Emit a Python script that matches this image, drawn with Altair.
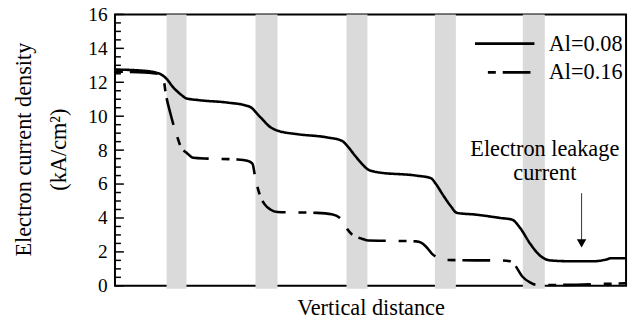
import altair as alt
import pandas as pd

FONT = "Liberation Serif, Times New Roman, serif"
TXT = 22.5

# --- data (x in arbitrary units of vertical distance, 0..100) ---
x_al008 = [0, 4.6, 7.6, 9.1, 10.1, 11.4, 12.8, 14.0, 16.3, 22.1, 26.0, 26.9, 27.5, 28.9, 30.2, 31.8,
           35.7, 41.5, 44.4, 45.3, 46.9, 48.3, 49.4, 51.3, 58.9, 61.8, 62.8, 64.3, 65.7, 66.9, 70.5,
           75.4, 77.7, 79.3, 81.2, 83.1, 85.1, 89.0, 93.8, 96.1, 97.1, 100]
y_al008 = [12.75, 12.7, 12.6, 12.45, 12.2, 11.7, 11.3, 11.05, 10.95, 10.8, 10.6, 10.45, 10.25, 9.8, 9.4, 9.15,
           8.94, 8.75, 8.55, 8.3, 7.7, 7.2, 6.88, 6.7, 6.5, 6.35, 6.0, 5.3, 4.7, 4.3, 4.2,
           4.0, 3.9, 3.4, 2.5, 1.8, 1.5, 1.45, 1.45, 1.55, 1.63, 1.63]

x_al016 = [0, 4.6, 8.5, 9.5, 9.9, 10.9, 12.0, 13.0, 14.0, 15.3, 18.2, 24.0, 25.9, 26.9, 27.5, 28.3, 29.3,
           30.4, 31.8, 39.5, 42.4, 44.4, 45.3, 46.5, 48.3, 49.6, 55.0, 58.9, 59.9, 60.9, 62.0, 63.2,
           64.7, 70.5, 75.4, 77.3, 78.3, 79.7, 81.2, 82.6, 86.0, 93.8, 100]
y_al016 = [12.62, 12.6, 12.5, 12.2, 11.4, 10.1, 8.95, 8.13, 7.85, 7.55, 7.5, 7.45, 7.37, 7.2, 6.3, 5.4, 4.8,
           4.5, 4.35, 4.3, 4.22, 3.9, 3.4, 3.0, 2.78, 2.67, 2.65, 2.62, 2.55, 2.3, 1.9, 1.65,
           1.53, 1.5, 1.5, 1.45, 1.2, 0.55, 0.2, 0.05, 0.05, 0.1, 0.15]

band_start = [10.1, 27.5, 45.3, 62.6, 79.8]
band_end = [14.0, 31.8, 49.4, 66.7, 84.1]

major_ticks = [0, 2, 4, 6, 8, 10, 12, 14, 16]
minor_ticks = [v / 2 for v in range(1, 32) if v % 4 != 0]

series_names = ["Al=0.08", "Al=0.16"]

ann_x = [84.1, 84.1]
ann_y = [7.67, 6.21]
ann_text = ["Electron leakage", "current"]
arrow_x = 91.3
arrow_top = 5.46
arrow_tip = 2.2

Y_TITLE = ["Electron current density", "(kA/cm\u00b2)"]
X_TITLE = "Vertical distance"

# --- tables ---
lines_df = pd.concat([
    pd.DataFrame({"x": x_al008, "y": y_al008, "s": series_names[0]}),
    pd.DataFrame({"x": x_al016, "y": y_al016, "s": series_names[1]}),
])
bands_df = pd.DataFrame({"a": band_start, "b": band_end})
major_df = pd.DataFrame({"v": major_ticks})
minor_df = pd.DataFrame({"v": minor_ticks})
ann_df = pd.DataFrame({"x": ann_x, "y": ann_y, "t": ann_text})
arrow_df = pd.DataFrame({"x": [arrow_x], "y": [arrow_top], "y2": [arrow_tip + 0.45], "tip": [arrow_tip + 0.3]})

xscale = alt.Scale(domain=[0, 100], nice=False)
yscale = alt.Scale(domain=[0, 16], nice=False)


def X(field):
    return alt.X(field, scale=xscale, title=X_TITLE)


def Y(field):
    return alt.Y(field, scale=yscale, title=Y_TITLE)


bands = alt.Chart(bands_df).mark_rect(color="#dadada", clip=False).encode(
    x=X("a:Q"), x2="b:Q", y=alt.value(0), y2=alt.value(277),
)

lines = alt.Chart(lines_df).mark_line(color="black", strokeWidth=2.6, interpolate="monotone").encode(
    x=X("x:Q"),
    y=Y("y:Q"),
    strokeDash=alt.StrokeDash("s:N", scale=alt.Scale(domain=series_names, range=[[1, 0], [8, 7, 28, 13]]),
                              legend=alt.Legend(title=None, orient="none", legendX=382, legendY=18,
                                                symbolType="M-3,0H3", symbolSize=400, symbolStrokeWidth=2.6,
                                                symbolStrokeColor="black", symbolDashOffset=43,
                                                labelFont=FONT, labelFontSize=TXT, labelColor="black",
                                                labelOffset=33, rowPadding=6, padding=0)),
    order="x:Q",
)

major = alt.Chart(major_df).mark_rule(color="black", strokeWidth=1.5).encode(
    y=Y("v:Q"), x=alt.value(0), x2=alt.value(9))
minor = alt.Chart(minor_df).mark_rule(color="black", strokeWidth=1.5).encode(
    y=Y("v:Q"), x=alt.value(0), x2=alt.value(6))

ann = alt.Chart(ann_df).mark_text(font=FONT, fontSize=TXT, color="black", align="center",
                                  baseline="alphabetic").encode(
    x=X("x:Q"), y=Y("y:Q"), text="t:N")

arrow_line = alt.Chart(arrow_df).mark_rule(color="#333333", strokeWidth=1).encode(
    x=X("x:Q"), y=Y("y:Q"), y2="y2:Q")
arrow_head = alt.Chart(arrow_df).mark_point(shape="triangle-down", filled=True, color="black",
                                            size=90, opacity=1).encode(
    x=X("x:Q"), y=Y("tip:Q"))

chart = alt.layer(bands, lines, major, minor, ann, arrow_line, arrow_head).properties(
    width=516, height=274,
    autosize=alt.AutoSizeParams(type="none"),
    padding={"left": 108, "top": 5, "right": 5, "bottom": 31},
).configure(
    font=FONT
).configure_view(
    stroke="black", strokeWidth=2
).configure_axisY(
    tickCount=8, ticks=False, domain=False, grid=False, labelPadding=8, labelOverlap=False,
    labelFont=FONT, labelFontSize=19.5, labelColor="black",
    titleFont=FONT, titleFontSize=TXT, titleFontWeight="normal", titleColor="black",
    titleLineHeight=35, titleX=-85, titleY=136, titleAngle=270,
    titleAlign="center", titleBaseline="alphabetic",
).configure_axisX(
    labels=False, ticks=False, domain=False, grid=False,
    titleFont=FONT, titleFontSize=TXT, titleFontWeight="normal", titleColor="black",
    titleY=29, titleBaseline="alphabetic",
)

chart.save("out.html", embed_options={"renderer": "svg", "actions": False})
